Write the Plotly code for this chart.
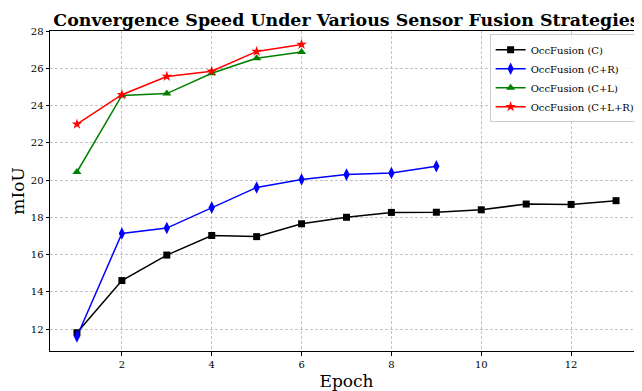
import plotly.graph_objects as go

epochs_c = list(range(1, 14))
miou_c = [11.8, 14.6, 15.97, 17.02, 16.96, 17.65, 18.0, 18.26, 18.27, 18.4, 18.71, 18.69, 18.89]

epochs_cr = list(range(1, 10))
miou_cr = [11.6, 17.13, 17.42, 18.52, 19.6, 20.03, 20.29, 20.38, 20.74]

epochs_cl = list(range(1, 7))
miou_cl = [20.43, 24.54, 24.64, 25.73, 26.54, 26.87]

epochs_clr = list(range(1, 7))
miou_clr = [23.0, 24.58, 25.56, 25.84, 26.9, 27.28]

series = [
    ("OccFusion (C)", epochs_c, miou_c, "black", "square", 7),
    ("OccFusion (C+R)", epochs_cr, miou_cr, "blue", "diamond-tall", 9),
    ("OccFusion (C+L)", epochs_cl, miou_cl, "green", "triangle-up", 8),
    ("OccFusion (C+L+R)", epochs_clr, miou_clr, "red", "star", 8),
]

fig = go.Figure()
for name, x, y, color, sym, size in series:
    fig.add_trace(go.Scatter(
        x=x, y=y, name=name, mode="lines+markers",
        line=dict(color=color, width=1.5),
        marker=dict(symbol=sym, size=size, color=color),
    ))

serif = "DejaVu Serif"
axis_common = dict(
    showline=True, linecolor="black", linewidth=1, mirror=True,
    showgrid=True, gridcolor="#c4c4c4", griddash="3px,2px", gridwidth=0.8,
    ticks="outside", ticklen=3.5, tickwidth=0.8, tickcolor="black",
    tickfont=dict(family=serif, size=10, color="black"),
    zeroline=False, automargin=False,
)

# page body has an 8px default margin, so the figure is sized to fit the window
fig.update_layout(
    width=635, height=383,
    margin=dict(l=42, r=0, t=23, b=40, autoexpand=False),
    plot_bgcolor="white", paper_bgcolor="white",
    title=dict(text="<b>Convergence Speed Under Various Sensor Fusion Strategies</b>",
               font=dict(family=serif, size=17.4, color="black"),
               x=0.5, xref="paper", xanchor="center", y=1, yref="paper",
               yanchor="bottom", pad=dict(b=5)),
    xaxis=dict(range=[0.4, 13.6], dtick=2, tick0=0,
               title=dict(text="Epoch", font=dict(family=serif, size=17, color="black"), standoff=11),
               **axis_common),
    yaxis=dict(range=[10.82, 28.0], dtick=2, tick0=0,
               title=dict(text="mIoU", font=dict(family=serif, size=17, color="black"), standoff=4),
               **axis_common),
    legend=dict(x=0.996, y=0.99, xanchor="right", yanchor="top",
                bgcolor="rgba(255,255,255,0.8)", bordercolor="#cccccc", borderwidth=1,
                font=dict(family=serif, size=10, color="black"),
                tracegroupgap=0, itemsizing="trace", itemwidth=30),
    showlegend=True,
)

fig.write_html("out.html")
